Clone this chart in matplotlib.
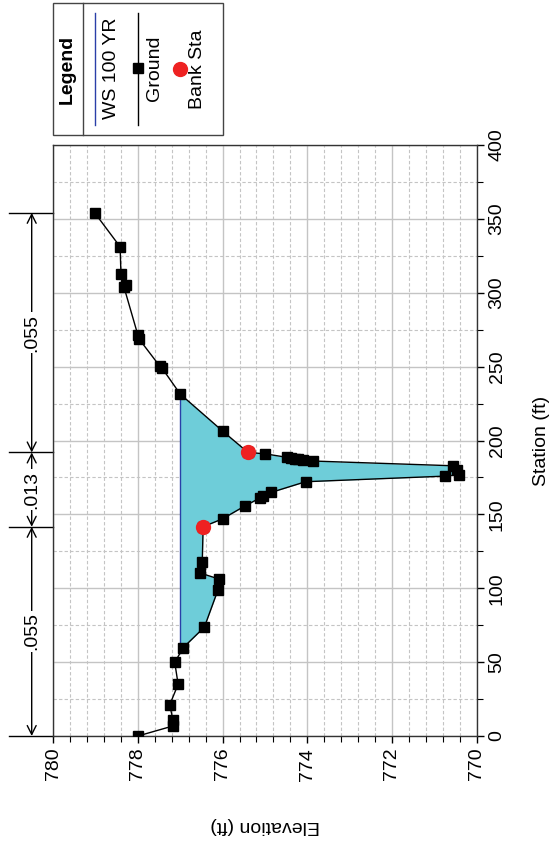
import numpy as np
import matplotlib
matplotlib.use("Agg")
import matplotlib.pyplot as plt
from matplotlib.patches import Rectangle
import matplotlib.transforms as mtransforms

plt.rcParams['font.family'] = ['Liberation Sans', 'DejaVu Sans']

# ground points (station ft, elevation ft)
station = [0.0, 6.8, 10.8, 21.0, 35.0, 49.8, 59.8, 73.7, 98.8, 106.2,
           110.3, 117.5, 141.6, 147.0, 155.6, 161.2, 162.4, 164.9, 172.1, 175.9,
           176.8, 180.0, 182.9, 186.1, 186.7, 187.2, 187.7, 188.1, 188.6, 191.0,
           191.9, 206.4, 231.4, 249.0, 250.2, 268.6, 271.3, 304.0, 305.5, 312.4,
           331.1, 354.1]
elevation = [778.00, 777.17, 777.17, 777.25, 777.05, 777.13, 776.93, 776.43, 776.11, 776.08,
             776.53, 776.48, 776.46, 776.00, 775.48, 775.11, 775.04, 774.85, 774.04, 770.74,
             770.42, 770.47, 770.56, 773.86, 774.09, 774.23, 774.30, 774.39, 774.48, 775.00,
             775.40, 776.00, 777.00, 777.43, 777.48, 777.97, 778.00, 778.33, 778.28, 778.40,
             778.42, 779.02]
bank_sta = [141.6, 191.9]
ws_elev = 777.0
mann_n = ['.055', '.013', '.055']

FS = 14

sta = np.array(station)
elev = np.array(elevation)
bank_elev = np.interp(bank_sta, sta, elev)

# stations where the water surface meets the ground
cross = []
for i in range(len(sta) - 1):
    a, b = elev[i] - ws_elev, elev[i + 1] - ws_elev
    if a == 0:
        cross.append(sta[i])
    elif a * b < 0:
        cross.append(sta[i] + (sta[i + 1] - sta[i]) * a / (a - b))
ws_lo, ws_hi = min(cross), max(cross)

W, H = 553, 851
fig = plt.figure(figsize=(W / 100, H / 100), dpi=100)
x0, x1, y0, y1 = 53.2, 476.7, 145, 736
ax = fig.add_axes([x0 / W, 1 - y1 / H, (x1 - x0) / W, (y1 - y0) / H])

ax.fill_betweenx(sta, elev, ws_elev, where=elev < ws_elev, interpolate=True,
                 color='#6ecdd9', lw=0, zorder=2)
ax.plot([ws_elev, ws_elev], [ws_lo, ws_hi], color='#2a3fa8', lw=1, zorder=3)
ax.plot(elev, sta, color='black', lw=1, marker='s', ms=6.5, zorder=4)
ax.plot(bank_elev, bank_sta, 'o', color='#ee2222', ms=10, zorder=5)

ax.set_xlim(780, 770)
ax.set_ylim(0, 400)
ax.set_xticks(np.arange(770, 781, 2))
ax.set_xticks(np.arange(770, 780.01, 0.4), minor=True)
ax.set_yticks(np.arange(0, 401, 50))
ax.set_yticks(np.arange(0, 401, 25), minor=True)
ax.yaxis.tick_right()
ax.yaxis.set_label_position('right')
ax.grid(which='major', color='#c4c4c4', lw=1, ls='-', zorder=0)
ax.grid(which='minor', color='#c4c4c4', lw=0.8, ls=(0, (3, 2)), zorder=0)
ax.set_axisbelow(True)
ax.tick_params(which='major', length=5, width=1, labelsize=FS, direction='out')
ax.tick_params(which='minor', length=4, width=0.8, direction='out')
ax.tick_params(axis='x', labelrotation=90)
ax.tick_params(axis='y', labelrotation=90)
for t in ax.get_yticklabels():
    t.set_va('center')
for s in ax.spines.values():
    s.set_color('#333333')
    s.set_linewidth(1)

ax.set_xlabel('Elevation (ft)', fontsize=FS, rotation=180, labelpad=26)
ax.set_ylabel('Station (ft)', fontsize=FS, rotation=90, labelpad=20)

# Manning's n dimension lines
trans = mtransforms.blended_transform_factory(ax.transAxes, ax.transData)
bounds = [sta.min(), bank_sta[0], bank_sta[1], sta.max()]
xd = (31.7 - x0) / (x1 - x0)
xe = (9.0 - x0) / (x1 - x0)
for b in bounds:
    ax.plot([xe, 0], [b, b], color='black', lw=1, transform=trans, clip_on=False)
for i, n in enumerate(mann_n):
    ax.annotate('', xy=(xd, bounds[i + 1]), xytext=(xd, bounds[i]), xycoords=trans,
                textcoords=trans, annotation_clip=False,
                arrowprops=dict(arrowstyle='<->', lw=1, color='black',
                                mutation_scale=16, shrinkA=0, shrinkB=0))
    ax.text(xd, (bounds[i] + bounds[i + 1]) / 2, n, rotation=90, ha='center',
            va='center', fontsize=FS, transform=trans, clip_on=False,
            bbox=dict(fc='white', ec='none', pad=1))

# legend box, in figure pixels
lg = fig.add_axes([0, 0, 1, 1])
lg.set_xlim(0, W)
lg.set_ylim(H, 0)
lg.axis('off')
lg.add_patch(Rectangle((53, 3), 170, 132, fc='white', ec='#444444', lw=1))
lg.plot([83, 83], [3, 135], color='#444444', lw=1)
lg.text(67, 69, 'Legend', rotation=90, ha='center', va='center', fontsize=FS,
        fontweight='bold')
lg.plot([95, 95], [13, 125], color='#2a3fa8', lw=1)
lg.text(112, 68, 'WS 100 YR', rotation=90, ha='center', va='center', fontsize=FS)
lg.plot([138, 138], [13, 125], color='black', lw=1)
lg.plot([138], [68], 's', color='black', ms=6.5)
lg.text(155, 68, 'Ground', rotation=90, ha='center', va='center', fontsize=FS)
lg.plot([180], [69], 'o', color='#ee2222', ms=10)
lg.text(198, 69, 'Bank Sta', rotation=90, ha='center', va='center', fontsize=FS)

fig.savefig('out.png', dpi=100)
